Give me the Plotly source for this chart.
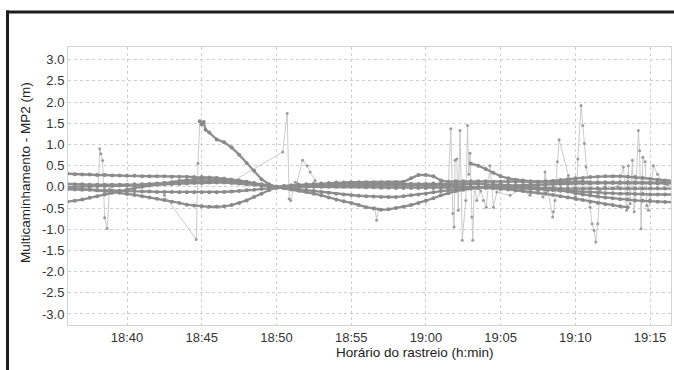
import pandas as pd
import plotly.graph_objects as go

DAY = "2000-01-01 "

# ---- smooth satellite arcs, sampled every 30 s -------------------------
arc_1_start = "18:36:00"
arc_1 = [
    0.31, 0.30, 0.29, 0.29, 0.28, 0.28, 0.27, 0.27, 0.26, 0.26,      # 18:36
    0.25, 0.25, 0.25, 0.25, 0.24, 0.24, 0.24, 0.23, 0.23, 0.22,      # 18:41
    0.21, 0.19, 0.17, 0.14, 0.11, 0.08, 0.05, 0.02, 0.00, -0.03,     # 18:46
    -0.06, -0.09, -0.12, -0.16, -0.20, -0.25, -0.30, -0.34, -0.38, -0.43,  # 18:51
    -0.48, -0.51, -0.54, -0.53, -0.50, -0.47, -0.43, -0.38, -0.33, -0.27,  # 18:56
    -0.20, -0.15, -0.10, -0.07, -0.04, -0.02, 0.00, 0.01, 0.02, 0.03,      # 19:01
    0.04, 0.04, 0.05, 0.05, 0.06, 0.06, 0.07, 0.07, 0.08, 0.08,      # 19:06
    0.08, 0.09, 0.09, 0.09, 0.09, 0.09, 0.09, 0.09, 0.08, 0.08,      # 19:11
    0.08, 0.08,                                                      # 19:16
]

arc_2_start = "18:36:00"
arc_2 = [
    -0.35, -0.33, -0.30, -0.26, -0.22, -0.18, -0.14, -0.10, -0.06, -0.03,  # 18:36
    0.00, 0.03, 0.06, 0.09, 0.11, 0.14, 0.16, 0.18, 0.19, 0.20,      # 18:41
    0.20, 0.19, 0.17, 0.15, 0.12, 0.09, 0.06, 0.03, 0.00, -0.02,     # 18:46
    -0.04, -0.06, -0.08, -0.10, -0.12, -0.14, -0.16, -0.18, -0.20, -0.21,  # 18:51
    -0.22, -0.23, -0.24, -0.24, -0.24, -0.22, -0.20, -0.18, -0.16, -0.13,  # 18:56
    -0.10, -0.08, -0.06, -0.04, -0.03, -0.03, -0.02, -0.02, -0.02, -0.02,  # 19:01
    -0.02, -0.02, -0.03, -0.03, -0.03, -0.03, -0.04, -0.04, -0.04, -0.04,  # 19:06
    -0.04, -0.04, -0.04, -0.04, -0.04, -0.04, -0.04, -0.04, -0.04, -0.04,  # 19:11
    -0.04, -0.04,                                                    # 19:16
]

arc_3_start = "18:36:00"
arc_3 = [
    -0.03, -0.04, -0.05, -0.06, -0.08, -0.10, -0.12, -0.14, -0.17, -0.19,  # 18:36
    -0.22, -0.25, -0.28, -0.31, -0.35, -0.38, -0.42, -0.44, -0.46, -0.47,  # 18:41
    -0.47, -0.46, -0.43, -0.38, -0.32, -0.24, -0.16, -0.08, -0.02, 0.01,   # 18:46
    0.03, 0.04, 0.05, 0.06, 0.06, 0.07, 0.07, 0.07, 0.07, 0.07,      # 18:51
    0.07, 0.07, 0.07, 0.07, 0.07, 0.07, 0.07, 0.07, 0.07, 0.08,      # 18:56
    0.08, 0.08, 0.08, 0.08, 0.08, 0.07, 0.06, 0.06, 0.05, 0.04,      # 19:01
    0.03, 0.02, 0.00, -0.02, -0.04, -0.06, -0.08, -0.11, -0.15, -0.18,     # 19:06
    -0.20, -0.23, -0.25, -0.27, -0.29, -0.30, -0.32, -0.33, -0.34, -0.35,  # 19:11
    -0.36, -0.36,                                                    # 19:16
]

arc_4_start = "18:36:00"
arc_4 = [
    -0.06, -0.06, -0.07, -0.07, -0.08, -0.08, -0.09, -0.09, -0.10, -0.10,  # 18:36
    -0.11, -0.11, -0.12, -0.12, -0.12, -0.13, -0.13, -0.13, -0.13, -0.13,  # 18:41
    -0.13, -0.12, -0.11, -0.10, -0.08, -0.07, -0.05, -0.04, -0.02, -0.01,  # 18:46
    -0.01, 0.00, 0.00, 0.00, 0.00, 0.00, 0.00, 0.00, 0.00, 0.00,     # 18:51
    -0.01, -0.01, -0.02, -0.02, -0.03, -0.03, -0.03, -0.03, -0.03, -0.03,  # 18:56
    -0.02, -0.02, -0.01, -0.01, 0.00, 0.00, 0.00, 0.00, -0.01, -0.02,      # 19:01
    -0.03, -0.04, -0.05, -0.06, -0.07, -0.08, -0.09, -0.10, -0.11, -0.12,  # 19:06
    -0.13, -0.14, -0.15, -0.15, -0.16, -0.16, -0.17, -0.17, -0.18, -0.18,  # 19:11
    -0.18, -0.18,                                                    # 19:16
]

arc_5_start = "18:36:00"
arc_5 = [
    0.07, 0.06, 0.06, 0.05, 0.05, 0.05, 0.05, 0.05, 0.05, 0.06,      # 18:36
    0.06, 0.07, 0.08, 0.09, 0.10, 0.11, 0.12, 0.13, 0.14, 0.15,      # 18:41
    0.15, 0.14, 0.13, 0.11, 0.09, 0.07, 0.04, 0.02, 0.00, 0.02,      # 18:46
    0.03, 0.05, 0.06, 0.07, 0.08, 0.09, 0.10, 0.10, 0.11, 0.11,      # 18:51
    0.11, 0.11, 0.11, 0.11, 0.11, 0.12, 0.20, 0.28, 0.28, 0.25,      # 18:56
    0.15, 0.12, 0.13, 0.13, 0.13, 0.13, 0.13, 0.12, 0.12, 0.12,      # 19:01
    0.12, 0.12, 0.12, 0.12, 0.12, 0.12, 0.12, 0.12, 0.12, 0.12,      # 19:06
    0.11, 0.11, 0.11, 0.11, 0.11, 0.11, 0.11, 0.10, 0.10, 0.10,      # 19:11
    0.10, 0.10,                                                      # 19:16
]

arc_6_start = "18:36:00"
arc_6 = [
    0.00, 0.00, 0.01, 0.01, 0.02, 0.02, 0.02, 0.03, 0.03, 0.03,      # 18:36
    0.04, 0.04, 0.05, 0.06, 0.07, 0.07, 0.08, 0.09, 0.09, 0.10,      # 18:41
    0.10, 0.10, 0.09, 0.08, 0.06, 0.05, 0.03, 0.02, 0.00, 0.01,      # 18:46
    0.01, 0.02, 0.02, 0.02, 0.03, 0.03, 0.03, 0.03, 0.03, 0.04,      # 18:51
    0.04, 0.04, 0.04, 0.04, 0.04, 0.04, 0.04, 0.04, 0.04, 0.03,      # 18:56
    0.03, 0.02, 0.02, 0.01, 0.00, -0.01, -0.02, -0.03, -0.05, -0.06,       # 19:01
    -0.08, -0.10, -0.12, -0.14, -0.16, -0.19, -0.22, -0.25, -0.28, -0.31,  # 19:06
    -0.35, -0.38, -0.41, -0.43, -0.46, -0.48,                        # 19:11
]

arc_8_start = "19:03:00"
arc_8 = [
    0.55, 0.50, 0.42, 0.33, 0.25, 0.20, 0.17, 0.15, 0.13, 0.12,      # 19:03
    0.13, 0.14, 0.16, 0.18, 0.20, 0.21, 0.23, 0.24, 0.25, 0.25,      # 19:08
    0.25, 0.24, 0.23, 0.21, 0.19, 0.17, 0.15, 0.14,                  # 19:13
]

# arc that rises abruptly at 18:45 and decays back to zero
arc_7_times = [
    "18:44:52", "18:45:00", "18:45:08", "18:45:15", "18:45:30", "18:46:00",
    "18:46:30", "18:47:00", "18:47:30", "18:48:00", "18:48:30", "18:49:00",
    "18:49:30", "18:50:00", "18:50:30", "18:51:00", "18:51:30", "18:52:00",
]
arc_7 = [1.55, 1.47, 1.53, 1.35, 1.28, 1.12, 1.05, 0.93, 0.76, 0.56, 0.38,
         0.18, 0.06, 0.00, -0.01, -0.01, 0.00, 0.00]

# ---- noisy low-elevation stretches (sparse, jumping samples) ----------
jump_a_times = ["18:38:05", "18:38:10", "18:38:15", "18:38:22", "18:38:30",
                "18:38:40", "18:38:50"]
jump_a = [0.02, 0.90, 0.78, 0.62, -0.73, -0.98, -0.05]

jump_b_times = ["18:42:30", "18:44:38", "18:44:45", "18:44:52"]
jump_b = [-0.20, -1.24, 0.55, 1.55]

jump_c_times = ["18:47:00", "18:50:25", "18:50:43", "18:50:51", "18:50:57",
                "18:51:15", "18:51:22", "18:51:45", "18:52:03", "18:52:15",
                "18:52:35", "18:53:00"]
jump_c = [0.12, 0.82, 1.73, -0.28, -0.32, 0.11, 0.09, 0.63, 0.50, 0.35,
          0.15, 0.02]

jump_d_times = ["18:56:35", "18:56:42", "18:56:50"]
jump_d = [-0.50, -0.79, -0.52]

jump_e_times = [
    "19:01:30", "19:01:40", "19:01:48", "19:01:53", "19:01:57", "19:02:04",
    "19:02:10", "19:02:17", "19:02:26", "19:02:40", "19:02:47", "19:02:52",
    "19:02:57", "19:03:04", "19:03:08", "19:03:15", "19:03:24", "19:03:40",
    "19:03:51", "19:04:02", "19:04:10", "19:04:17", "19:04:31", "19:04:45",
    "19:05:38", "19:06:20", "19:06:58", "19:07:30", "19:07:50", "19:07:58",
    "19:08:10", "19:08:29", "19:08:32", "19:08:38", "19:08:48", "19:08:55",
    "19:09:32", "19:09:59", "19:10:05", "19:10:10", "19:10:23", "19:10:30",
    "19:10:36", "19:10:43", "19:10:59", "19:11:07", "19:11:15", "19:11:22",
    "19:11:30", "19:11:39", "19:12:00",
]
jump_e = [
    0.05, 1.37, -0.63, -0.95, 0.63, 0.66,
    -0.55, 1.33, -1.26, -0.32, 1.45, 0.30,
    0.79, -0.71, -1.26, 0.10, -0.32, -0.10,
    -0.32, -0.48, 0.00, 0.50, -0.48, -0.12,
    -0.20, -0.05, -0.20, -0.05, -0.24, 0.35,
    -0.10, -0.71, -0.59, -0.32, 0.59, 1.11,
    0.27, -0.24, -0.30, 0.66, 1.92, 1.45,
    1.02, 0.47, -0.48, -0.87, -1.03, -1.30,
    -0.87, -0.08, 0.00,
]

jump_f_times = ["19:12:50", "19:13:13", "19:13:26", "19:13:33", "19:13:40",
                "19:13:49", "19:13:56", "19:14:05", "19:14:13", "19:14:18",
                "19:14:24", "19:14:31", "19:14:40", "19:14:47", "19:14:53",
                "19:15:00", "19:15:13", "19:15:30", "19:15:47", "19:16:10"]
jump_f = [0.00, 0.47, -0.55, 0.50, -0.40, 0.63, -0.59, 0.20, 1.33, 0.85,
          -0.99, 0.70, 0.59, -0.44, -0.55, -0.30, 0.50, 0.30, 0.15, 0.05]

# ---- axis ticks --------------------------------------------------------
y_ticks = [-3.0, -2.5, -2.0, -1.5, -1.0, -0.5, 0.0, 0.5, 1.0, 1.5, 2.0, 2.5, 3.0]
x_ticks = ["18:40", "18:45", "18:50", "18:55", "19:00", "19:05", "19:10", "19:15"]


def every_30s(start, values):
    return pd.date_range(DAY + start, periods=len(values), freq="30s")


def stamps(times):
    return pd.to_datetime([DAY + t for t in times])


fig = go.Figure()

JUMP_LINE = "#c4c4c4"
JUMP_MARK = "#9c9c9c"
ARC_LINE = "#8e8e8e"
ARC_MARK = "#8a8a8a"

for times, vals in [(jump_a_times, jump_a), (jump_b_times, jump_b),
                    (jump_c_times, jump_c), (jump_d_times, jump_d),
                    (jump_e_times, jump_e), (jump_f_times, jump_f)]:
    fig.add_trace(go.Scatter(
        x=stamps(times), y=vals, mode="lines+markers",
        line=dict(color=JUMP_LINE, width=0.9),
        marker=dict(color=JUMP_MARK, size=3),
        showlegend=False, hoverinfo="skip",
    ))

arcs = [
    (every_30s(arc_1_start, arc_1), arc_1),
    (every_30s(arc_2_start, arc_2), arc_2),
    (every_30s(arc_3_start, arc_3), arc_3),
    (every_30s(arc_4_start, arc_4), arc_4),
    (every_30s(arc_5_start, arc_5), arc_5),
    (every_30s(arc_6_start, arc_6), arc_6),
    (stamps(arc_7_times), arc_7),
    (every_30s(arc_8_start, arc_8), arc_8),
]
for x, vals in arcs:
    fig.add_trace(go.Scatter(
        x=x, y=vals, mode="lines+markers",
        line=dict(color=ARC_LINE, width=2.3),
        marker=dict(color=ARC_MARK, size=4),
        showlegend=False, hoverinfo="skip",
    ))

FONT = "Liberation Sans, Arial, sans-serif"
L, R, T, B = 68, 3, 47, 45
W, H = 674, 370
pw, ph = W - L - R, H - T - B


def px_x(x):
    return (x - L) / pw


def px_y(y):
    return (H - B - y) / ph


fig.update_layout(
    width=W, height=H,
    margin=dict(l=L, r=R, t=T, b=B),
    paper_bgcolor="white", plot_bgcolor="white",
    font=dict(family=FONT, size=13, color="#333333"),
    xaxis=dict(
        type="date",
        range=[DAY + "18:36:03", DAY + "19:16:24"],
        tickvals=stamps(x_ticks), ticktext=x_ticks,
        showgrid=True, gridcolor="#cfcfcf", griddash="dot", gridwidth=1,
        showline=True, linecolor="#d4d4d4", linewidth=1, mirror=True,
        zeroline=False, ticks="",
        tickfont=dict(family=FONT, size=13, color="#333333"),
    ),
    yaxis=dict(
        range=[-3.26, 3.3],
        tickvals=y_ticks, ticktext=[f"{v:.1f}" for v in y_ticks],
        showgrid=True, gridcolor="#cfcfcf", griddash="dot", gridwidth=1,
        showline=True, linecolor="#d4d4d4", linewidth=1, mirror=True,
        zeroline=False, ticks="",
        tickfont=dict(family=FONT, size=13, color="#333333"),
    ),
    annotations=[
        dict(text="Horário do rastreio (h:min)", xref="paper", yref="paper",
             x=px_x(415), y=px_y(352), xanchor="center", yanchor="middle",
             showarrow=False, font=dict(family=FONT, size=13.5, color="#222222")),
        dict(text="Multicaminhamento - MP2 (m)", xref="paper", yref="paper",
             x=px_x(25), y=px_y(173), xanchor="center", yanchor="middle",
             textangle=-90, showarrow=False,
             font=dict(family=FONT, size=13.5, color="#222222")),
    ],
    shapes=[
        # outer frame of the figure panel
        dict(type="line", xref="paper", yref="paper",
             x0=px_x(6), x1=px_x(700), y0=px_y(12), y1=px_y(12),
             line=dict(color="#1c1c1c", width=3)),
        dict(type="line", xref="paper", yref="paper",
             x0=px_x(7.5), x1=px_x(7.5), y0=px_y(10.5), y1=px_y(400),
             line=dict(color="#1c1c1c", width=3)),
    ],
)

fig.write_html("out.html")
